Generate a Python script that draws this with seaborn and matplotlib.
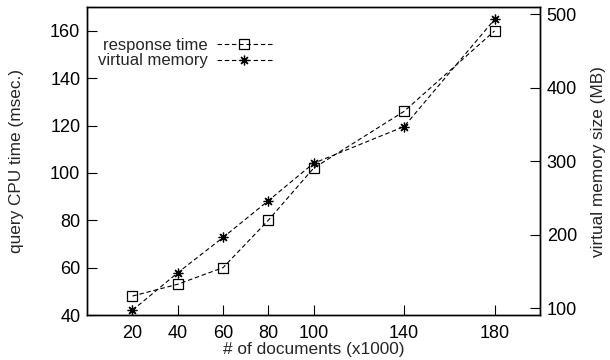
import matplotlib
matplotlib.use("Agg")
from matplotlib import pyplot as plt
import seaborn as sns
import pandas as pd

sns.set_theme(style="white")
plt.rcParams['font.family'] = ['Liberation Sans', 'DejaVu Sans']
plt.rcParams['font.size'] = 12

docs = [20, 40, 60, 80, 100, 140, 180]
response_time = [48, 53, 60, 80, 102, 126, 160]
virtual_memory = [97, 148, 196, 246, 297, 347, 493]

df = pd.DataFrame({'docs': docs, 'rt': response_time, 'vm': virtual_memory})

fig, ax = plt.subplots(figsize=(6.1, 3.6), dpi=100)
ax2 = ax.twinx()

style = dict(color='black', linewidth=0.8, dashes=(4, 2.5), markersize=7,
             markeredgewidth=0.9)
sns.lineplot(data=df, x='docs', y='rt', ax=ax, marker='s', markerfacecolor='none',
             markeredgecolor='black', label='response time', legend=False, **style)
sns.lineplot(data=df, x='docs', y='vm', ax=ax2, marker=(8, 2, 0),
             markeredgecolor='black', label='virtual memory', legend=False, **style)

ax.set_xlim(0, 200)
ax.set_ylim(40, 170)
ax2.set_ylim(90.5, 509.5)
ax.set_xticks(docs)
ax.set_yticks([40, 60, 80, 100, 120, 140, 160])
ax2.set_yticks([100, 200, 300, 400, 500])

ax.set_xlabel('# of documents (x1000)', labelpad=0, fontsize=12.4)
ax.set_ylabel('query CPU time (msec.)', labelpad=19, fontsize=12.4)
ax2.set_ylabel('virtual memory size (MB)', rotation=90, labelpad=10, fontsize=12.4)

for a in (ax, ax2):
    for s in a.spines.values():
        s.set_color('black')
        s.set_linewidth(1.0)
ax.tick_params(axis='both', direction='in', length=7, width=0.8, colors='black',
               labelsize=13, left=True, bottom=True, right=False, top=False, pad=5)
ax2.tick_params(axis='y', direction='in', length=7, width=0.8, colors='black',
                labelsize=13, right=True, left=False, pad=5)
ax.tick_params(axis='x', pad=7)

h1, l1 = ax.get_legend_handles_labels()
h2, l2 = ax2.get_legend_handles_labels()
leg = ax2.legend(h1 + h2, l1 + l2, loc='upper left', bbox_to_anchor=(-0.01, 0.95),
                 frameon=False, markerfirst=False, handlelength=3.3,
                 handletextpad=0.55, labelspacing=0.05, fontsize=12)
for t in leg.get_texts():
    t.set_ha('right')
leg._legend_box.align = 'right'

plt.subplots_adjust(left=0.143, right=0.885, top=0.98, bottom=0.125)
fig.savefig('out.png', dpi=100)
